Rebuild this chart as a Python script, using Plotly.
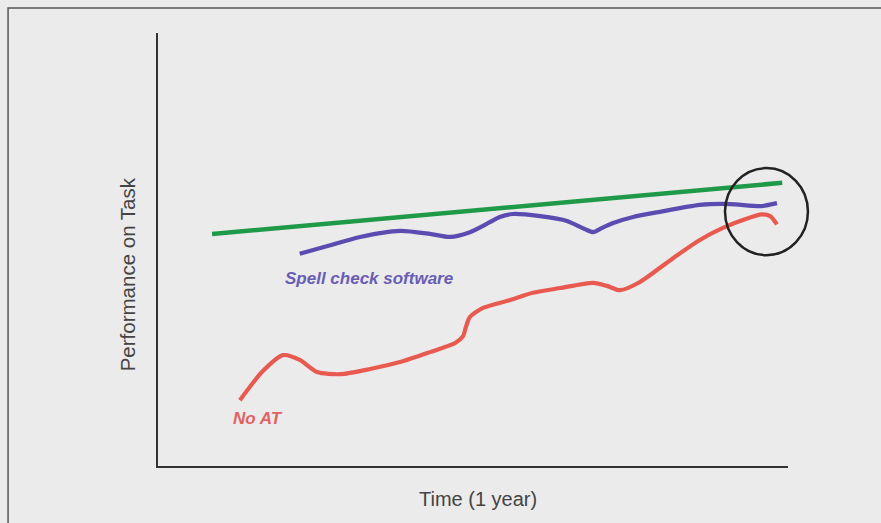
import plotly.graph_objects as go

# Time in months (0-12), performance on an arbitrary 0-100 scale
green_x = [1.03, 11.89]
green_y = [53.6, 65.4]

purple_x = [2.70, 3.28, 3.85, 4.61, 5.18, 5.56, 5.94, 6.32, 6.51, 6.76, 7.28, 7.79,
            8.13, 8.29, 8.46, 8.67, 9.05, 9.56, 10.32, 10.90, 11.47, 11.79]
purple_y = [49.0, 51.0, 52.9, 54.3, 53.6, 52.9, 54.0, 56.3, 57.5, 58.2, 57.7, 56.6,
            54.7, 54.0, 55.0, 56.1, 57.5, 58.7, 60.3, 60.5, 60.0, 60.7]

red_x = [1.56, 1.98, 2.38, 2.70, 3.03, 3.47, 4.04, 4.61, 5.18, 5.66, 5.81, 5.87, 5.94,
         6.19, 6.70, 7.14, 7.66, 8.29, 8.55, 8.80, 9.18, 9.81, 10.32, 10.76, 11.18,
         11.50, 11.66, 11.79]
red_y = [15.2, 21.7, 25.6, 24.5, 21.7, 21.2, 22.4, 24.0, 26.3, 28.4, 30.0, 32.3, 34.4,
         36.5, 38.3, 40.0, 41.1, 42.3, 41.6, 40.6, 42.5, 48.0, 52.2, 55.0, 57.0,
         58.1, 57.7, 55.8]

circle_x = [10.80, 12.38]
circle_y = [48.7, 68.8]

x_range = [0, 12]
y_range = [0, 100]

labels = {"purple": ("Spell check software", 4.01, 43.4),
          "red": ("No AT", 1.90, 10.9)}

GREEN = "#1f9a48"
PURPLE = "#5a4cb0"
RED = "#e85a50"
FONT = "Liberation Sans, Arial, sans-serif"
BG = "#ebebeb"

fig = go.Figure()
fig.add_trace(go.Scatter(x=green_x, y=green_y, mode="lines",
                         line=dict(color=GREEN, width=4.5), hoverinfo="skip"))
fig.add_trace(go.Scatter(x=purple_x, y=purple_y, mode="lines",
                         line=dict(color=PURPLE, width=4.2, shape="spline", smoothing=0.7),
                         hoverinfo="skip"))
fig.add_trace(go.Scatter(x=red_x, y=red_y, mode="lines",
                         line=dict(color=RED, width=4.2, shape="spline", smoothing=0.7),
                         hoverinfo="skip"))

def px_x(v):
    return (v - x_range[0]) / (x_range[1] - x_range[0])

def px_y(v):
    return (v - y_range[0]) / (y_range[1] - y_range[0])

fig.add_shape(type="circle", xref="paper", yref="paper",
              x0=px_x(circle_x[0]), x1=px_x(circle_x[1]),
              y0=px_y(circle_y[0]), y1=px_y(circle_y[1]),
              line=dict(color="#222222", width=2.5))

# outer frame (left and top visible)
fig.add_shape(type="rect", xref="paper", yref="paper",
              x0=-0.238, x1=1.2, y0=-0.2, y1=1.0577,
              line=dict(color="#555555", width=1.5), layer="below")

t, x, y = labels["purple"]
fig.add_annotation(text=f"<b><i>{t}</i></b>", x=x, y=y, showarrow=False,
                   xanchor="center", yanchor="middle",
                   font=dict(family=FONT, size=17, color="#6a5db4"))
t, x, y = labels["red"]
fig.add_annotation(text=f"<b><i>{t}</i></b>", x=x, y=y, showarrow=False,
                   xanchor="center", yanchor="middle",
                   font=dict(family=FONT, size=17, color="#e26262"))

fig.add_annotation(text="Time (1 year)", xref="paper", yref="paper",
                   x=0.508, y=-0.076, showarrow=False,
                   xanchor="center", yanchor="middle",
                   font=dict(family=FONT, size=20, color="#444444"))
fig.add_annotation(text="Performance on Task", xref="paper", yref="paper",
                   x=-0.049, y=0.443, showarrow=False, textangle=-90,
                   xanchor="center", yanchor="middle",
                   font=dict(family=FONT, size=20.5, color="#444444"))

fig.update_layout(
    width=881, height=523,
    margin=dict(l=158, r=93, t=33, b=57),
    paper_bgcolor=BG, plot_bgcolor=BG,
    showlegend=False,
    xaxis=dict(range=x_range, showline=True, linecolor="#333333", linewidth=2,
               showgrid=False, zeroline=False, showticklabels=False, ticks=""),
    yaxis=dict(range=y_range, showline=True, linecolor="#333333", linewidth=2,
               showgrid=False, zeroline=False, showticklabels=False, ticks=""),
)

fig.write_html(
    "out.html",
    config={"displayModeBar": False},
    post_script="document.body.style.margin='0';document.body.style.overflow='hidden';"
                "document.body.style.background='" + BG + "';",
)
